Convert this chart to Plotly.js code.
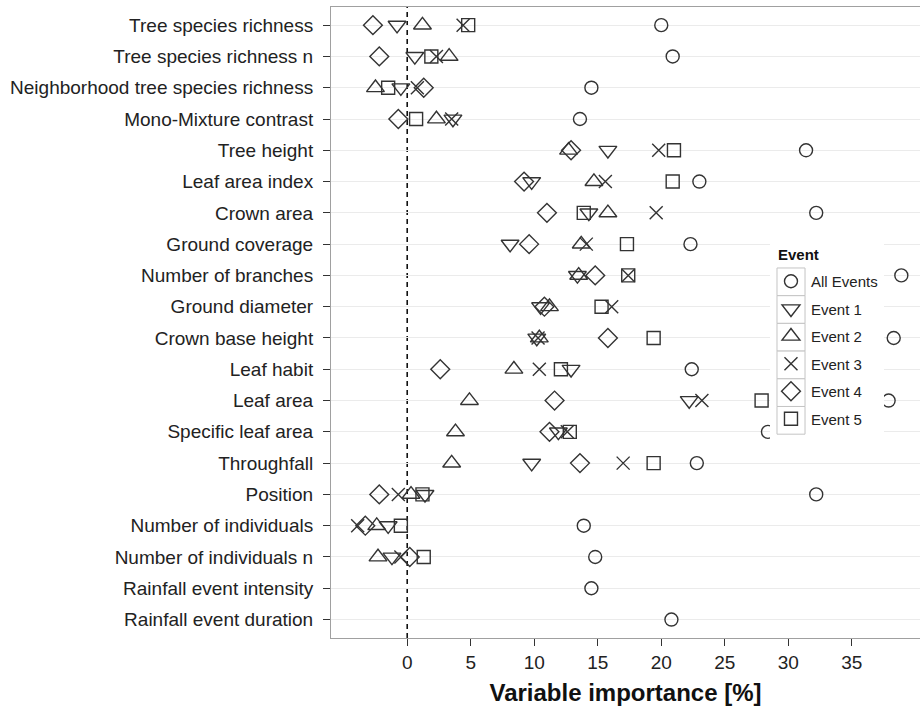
<!DOCTYPE html>
<html>
<head>
<meta charset="utf-8">
<script src="https://cdn.plot.ly/plotly-3.0.1.min.js"></script>
<style>html,body{margin:0;padding:0;background:#fff;}#chart{width:920px;height:711px;}</style>
</head>
<body>
<div id="chart"></div>
<script>
const categories = [
  "Tree species richness", "Tree species richness n", "Neighborhood tree species richness",
  "Mono-Mixture contrast", "Tree height", "Leaf area index", "Crown area", "Ground coverage",
  "Number of branches", "Ground diameter", "Crown base height", "Leaf habit", "Leaf area",
  "Specific leaf area", "Throughfall", "Position", "Number of individuals",
  "Number of individuals n", "Rainfall event intensity", "Rainfall event duration"
];
const seriesNames = ["All Events", "Event 1", "Event 2", "Event 3", "Event 4", "Event 5"];
const allEvents = [20.0, 20.9, 14.5, 13.6, 31.4, 23.0, 32.2, 22.3, 38.9, 32.0, 38.3, 22.4, 37.9, 28.4, 22.8, 32.2, 13.9, 14.8, 14.5, 20.8];
const event1 = [-0.8, 0.6, -0.5, 3.6, 15.8, 9.8, 14.3, 8.1, 13.4, 10.5, 10.2, 12.9, 22.2, 11.9, 9.8, 1.4, -1.5, -1.2, null, null];
const event2 = [1.2, 3.3, -2.5, 2.3, 12.7, 14.7, 15.8, 13.7, 13.5, 11.2, 10.4, 8.4, 4.9, 3.8, 3.5, 0.3, -2.4, -2.3, null, null];
const event3 = [4.4, 2.3, 0.8, 3.5, 19.8, 15.6, 19.6, 14.1, 17.4, 16.1, 10.3, 10.4, 23.2, 12.6, 17.0, -0.7, -3.9, -0.5, null, null];
const event4 = [-2.7, -2.2, 1.3, -0.7, 12.9, 9.2, 11.0, 9.6, 14.8, 10.8, 15.8, 2.6, 11.6, 11.2, 13.6, -2.2, -3.3, 0.2, null, null];
const event5 = [4.8, 1.9, -1.5, 0.7, 21.0, 20.9, 13.9, 17.3, 17.4, 15.3, 19.4, 12.1, 27.9, 12.8, 19.4, 1.2, -0.5, 1.3, null, null];
const xTicks = [0, 5, 10, 15, 20, 25, 30, 35];

const seriesValues = [allEvents, event1, event2, event3, event4, event5];
const symbols = ["circle-open", "triangle-down-open", "triangle-up-open", "x-thin-open", "diamond-open", "square-open"];
const sizes = [13, 15.5, 15.5, 13, 14.5, 13];
const ink = "#333333";
const font = "Liberation Sans, Arial, sans-serif";

const traces = seriesNames.map((name, i) => ({
  type: "scatter", mode: "markers", name: name,
  x: seriesValues[i], y: categories,
  legendgroup: "g" + i,
  marker: {symbol: symbols[i], size: sizes[i], color: ink, line: {color: ink, width: 1.4}},
  hoverinfo: "skip"
}));

// legend key boxes (paper coords of plot area)
const shapes = [];
shapes.push({type: "rect", xref: "paper", yref: "paper", x0: 0.7453, x1: 0.9389, y0: 0.3106, y1: 0.6307,
  layer: "above", fillcolor: "#ffffff", line: {width: 0}});
const boxTop = 0.5864, boxH = 27.7 / 631;
for (let i = 0; i < 6; i++) {
  shapes.push({type: "rect", xref: "paper", yref: "paper", x0: 0.7572, x1: 0.8048,
    y0: boxTop - (i + 1) * boxH, y1: boxTop - i * boxH, layer: "above",
    fillcolor: "#ffffff", line: {color: "#c4c4c4", width: 1}});
}
shapes.push({type: "line", xref: "x", yref: "paper", x0: 0, x1: 0, y0: 0, y1: 1, layer: "below",
  line: {color: "#111111", width: 1.6, dash: "5px,4px"}});

const layout = {
  width: 920, height: 711,
  margin: {l: 331, r: 0, t: 7, b: 73},
  paper_bgcolor: "#ffffff", plot_bgcolor: "#ffffff",
  font: {family: font, color: "#222222"},
  showlegend: true,
  legend: {x: 0.747, xanchor: "left", y: 0.5911, yanchor: "top", bgcolor: "rgba(0,0,0,0)",
    font: {size: 15, color: "#222222", family: font}, traceorder: "grouped", tracegroupgap: 5},
  xaxis: {range: [-6.0, 40.37], tickvals: xTicks, ticktext: xTicks.map(String),
    ticks: "outside", ticklen: 7, tickcolor: "#333333", tickwidth: 1,
    showgrid: false, zeroline: false, showline: true, linecolor: "#a0a0a0", linewidth: 1, mirror: true,
    tickfont: {size: 19, color: "#222222"},
    title: {text: "Variable importance [%]", font: {size: 24, weight: "bold", color: "#111111"}, standoff: 12}},
  yaxis: {type: "category", categoryarray: categories, categoryorder: "array",
    range: [19.59, -0.58], ticks: "outside", ticklen: 7, tickcolor: "#333333", tickwidth: 1,
    ticklabelstandoff: 6,
    showgrid: true, gridcolor: "#ebebeb", gridwidth: 1, zeroline: false,
    showline: true, linecolor: "#a0a0a0", linewidth: 1, mirror: false,
    tickfont: {size: 19, color: "#222222"}},
  shapes: shapes,
  annotations: [{text: "Event", xref: "paper", yref: "paper", x: 0.7555, y: 1 - (255 - 7) / 631,
    xanchor: "left", yanchor: "middle", showarrow: false, font: {size: 15, weight: "bold", color: "#111111"}}]
};

Plotly.newPlot("chart", traces, layout, {staticPlot: true, displayModeBar: false});
</script>
</body>
</html>
